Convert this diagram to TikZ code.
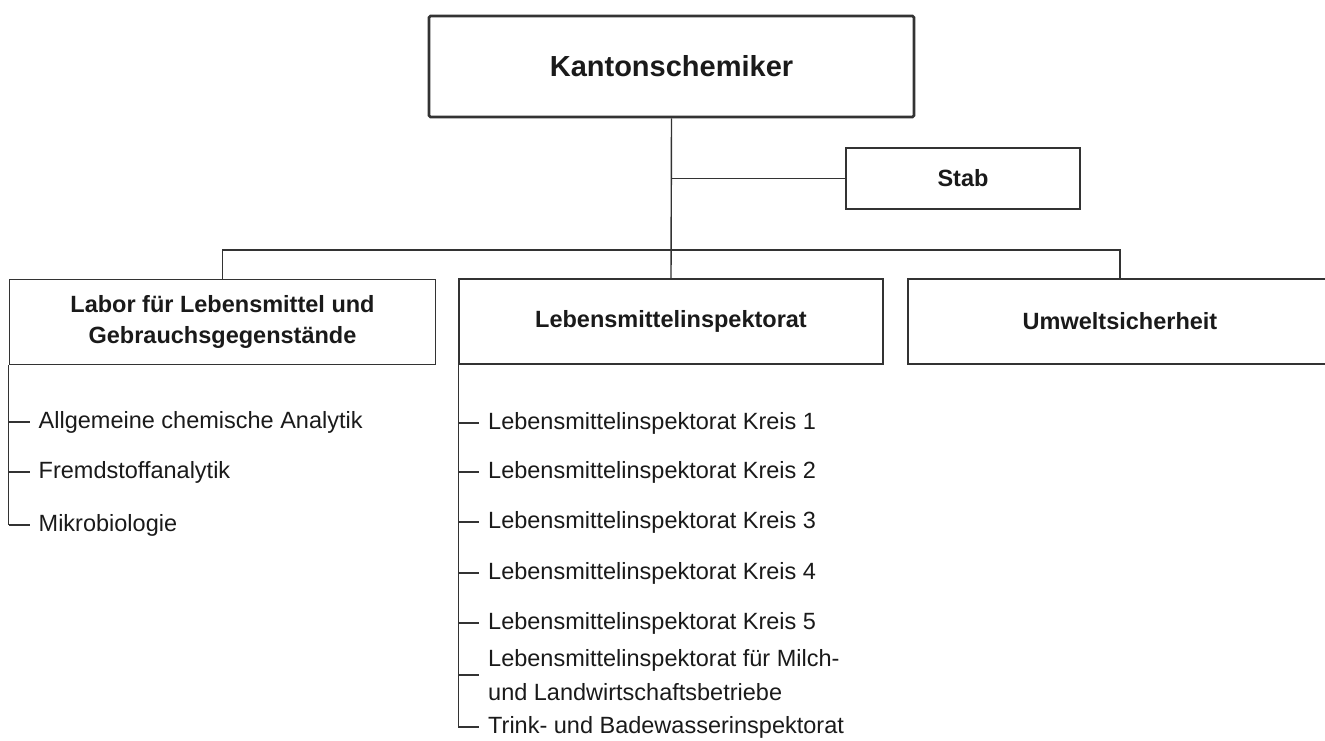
\documentclass[tikz,border=0pt]{standalone}
\usepackage{fontspec}
\setmainfont{Liberation Sans}
\usepackage{tikz}
\usetikzlibrary{positioning}
\definecolor{orgLine}{HTML}{333333}
\definecolor{orgText}{HTML}{1A1A1A}

\tikzset{
  unitbox/.style={draw=orgLine, line width=1.6pt, fill=white, text=orgText,
    font=\bfseries\fontsize{23.5}{31}\selectfont, align=center, inner sep=0pt},
  itemtext/.style={anchor=west, inner sep=0pt, text=orgText,
    font=\fontsize{23.5}{34}\selectfont, align=left},
  link/.style={draw=orgLine, line width=1.4pt},
}

\begin{document}
\begin{tikzpicture}[x=1pt, y=-1pt]
  \useasboundingbox (0,0) rectangle (1325,740);
  % Head
  \node[unitbox, line width=2.6pt, rounded corners=1.5pt, minimum width=485pt,
        minimum height=101pt, font=\bfseries\fontsize{29}{34}\selectfont]
        (chef) at (671.5,66.5) {Kantonschemiker};
  % Staff
  \node[unitbox, minimum width=234pt, minimum height=61pt] (stab) at (963,178.5) {Stab};
  % Departments
  \node[unitbox, minimum width=426pt, minimum height=85pt] (labor) at (222.5,322)
        {Labor für Lebensmittel und\\Gebrauchsgegenstände};
  \node[unitbox, minimum width=424pt, minimum height=85pt] (lmi) at (671,321.5)
        {Lebensmittelinspektorat};
  \node[unitbox, minimum width=424pt, minimum height=85pt] (umwelt) at (1120,321.5)
        {Umweltsicherheit};
  % Connectors
  \coordinate (bus) at (0,250);
  \draw[link] (chef.south) -- (lmi.north);
  \draw[link] (chef.south |- stab.west) -- (stab.west);
  \draw[link] (labor.north) -- (labor.north |- bus) -| (umwelt.north);
  % Labor sections
  \foreach \y/\txt [count=\i] in {422/Allgemeine chemische Analytik,
      472/Fremdstoffanalytik, 525/Mikrobiologie} {
    \node[itemtext] (lab\i) at (38.5,\y) {\txt};
    \draw[link] (labor.south west |- lab\i.west) -- ([xshift=-9pt]lab\i.west);
  }
  \draw[link] (labor.south west) -- (labor.south west |- lab3.west);
  % Inspectorate districts
  \foreach \y/\txt [count=\i] in {423/Lebensmittelinspektorat Kreis 1,
      472/Lebensmittelinspektorat Kreis 2, 522/Lebensmittelinspektorat Kreis 3,
      573/Lebensmittelinspektorat Kreis 4, 623/Lebensmittelinspektorat Kreis 5,
      675/{Lebensmittelinspektorat für Milch-\\und Landwirtschaftsbetriebe},
      727/Trink- und Badewasserinspektorat} {
    \node[itemtext] (lmi\i) at (488,\y) {\txt};
    \draw[link] (lmi.south west |- lmi\i.west) -- ([xshift=-9pt]lmi\i.west);
  }
  \draw[link] (lmi.south west) -- (lmi.south west |- lmi7.west);
\end{tikzpicture}
\end{document}
